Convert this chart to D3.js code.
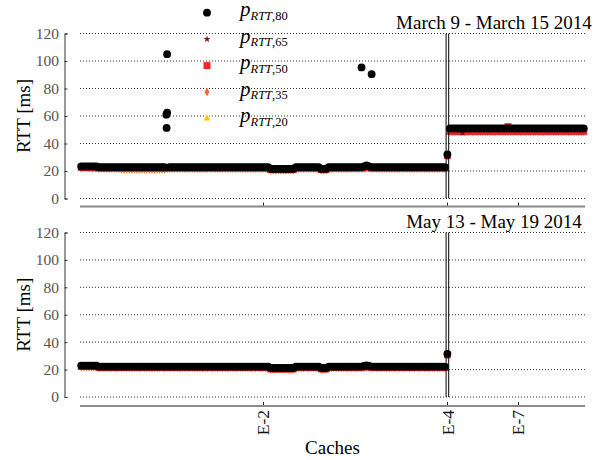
<!DOCTYPE html>
<html>
<head>
<meta charset="utf-8">
<script src="https://cdn.jsdelivr.net/npm/d3@7"></script>
<style>
body{margin:0;background:#fff}
text{font-family:"Liberation Serif","DejaVu Serif",serif}
</style>
</head>
<body>
<div class="container"></div>
<script>
// caches are numbered 1..200 along the x axis
const cacheCount = 200
const xTickCaches = [73, 146, 174]
const xTickLabels = ["E-2", "E-4", "E-7"]
const yTicks = [0, 20, 40, 60, 80, 100, 120]
const splitCache = 146

const titles = ["March 9 - March 15 2014", "May 13 - May 19 2014"]

// March week (top), one row = 10 caches
const topP80 = [
23.3,23.3,23.3,23.3,23.3,23.3,23.3,22.8,22.8,22.8,
22.8,22.8,22.8,22.8,22.8,22.8,22.8,22.8,22.8,22.8,
22.8,22.8,22.8,22.8,22.8,22.8,22.8,22.8,22.8,22.8,
22.8,22.8,22.8,22.8,105,22.8,22.8,22.8,22.8,22.8,
22.8,22.8,22.8,22.8,22.8,22.8,22.8,22.8,22.8,22.8,
22.8,22.8,22.8,22.8,22.8,22.8,22.8,22.8,22.8,22.8,
22.8,22.8,22.8,22.8,22.8,22.8,22.8,22.8,22.8,22.8,
22.8,22.8,22.8,22.8,22.8,21.6,21.6,21.6,21.6,21.6,
21.6,21.6,21.6,21.6,21.6,22.8,22.8,22.8,22.8,22.8,
22.8,22.8,22.8,22.8,22.8,21.6,21.6,21.6,22.8,22.8,
22.8,22.8,22.8,22.8,22.8,22.8,22.8,22.8,22.8,22.8,
22.8,22.8,23.4,24.0,23.4,22.8,22.8,22.8,22.8,22.8,
22.8,22.8,22.8,22.8,22.8,22.8,22.8,22.8,22.8,22.8,
22.8,22.8,22.8,22.8,22.8,22.8,22.8,22.8,22.8,22.8,
22.8,22.8,22.8,22.8,22.8,32,51,51,51,51,
51,51,51,51,51,51,51,51,51,51,
51,51,51,51,51,51,51,51,51,51,
51,51,51,51,51,51,51,51,51,51,
51,51,51,51,51,51,51,51,51,51,
51,51,51,51,51,51,51,51,51,51]
const topP65 = [
22.9,22.9,22.9,22.9,22.9,22.9,22.9,22.4,22.4,22.4,
22.4,22.4,22.4,22.4,22.4,22.4,22.4,22.4,22.4,22.4,
22.4,22.4,22.4,22.4,22.4,22.4,22.4,22.4,22.4,22.4,
22.4,22.4,22.4,22.4,22.4,22.4,22.4,22.4,22.4,22.4,
22.4,22.4,22.4,22.4,22.4,22.4,22.4,22.4,22.4,22.4,
22.4,22.4,22.4,22.4,22.4,22.4,22.4,22.4,22.4,22.4,
22.4,22.4,22.4,22.4,22.4,22.4,22.4,22.4,22.4,22.4,
22.4,22.4,22.4,22.4,22.4,21.3,21.3,21.3,21.3,21.3,
21.3,21.3,21.3,21.3,21.3,22.4,22.4,22.4,22.4,22.4,
22.4,22.4,22.4,22.4,22.4,21.3,21.3,21.3,22.4,22.4,
22.4,22.4,22.4,22.4,22.4,22.4,22.4,22.4,22.4,22.4,
22.4,22.4,22.9,23.3,22.9,22.4,22.4,22.4,22.4,22.4,
22.4,22.4,22.4,22.4,22.4,22.4,22.4,22.4,22.4,22.4,
22.4,22.4,22.4,22.4,22.4,22.4,22.4,22.4,22.4,22.4,
22.4,22.4,22.4,22.4,22.4,31.6,50.4,50.4,50.4,50.4,
50.4,47.6,50.4,50.4,50.4,50.4,50.4,50.4,50.4,50.4,
50.4,50.4,50.4,50.4,50.4,50.4,50.4,50.4,50.4,50.4,
50.4,50.4,50.4,50.4,50.4,50.4,50.4,50.4,50.4,50.4,
50.4,50.4,50.4,50.4,50.4,50.4,50.4,50.4,50.4,50.4,
50.4,50.4,50.4,50.4,50.4,50.4,50.4,50.4,50.4,50.4]
const topP50 = [
22.6,22.6,22.6,22.6,22.6,22.6,22.6,22.1,22.1,22.1,
22.1,22.1,22.1,22.1,22.1,22.1,21.8,21.8,21.8,21.8,
21.8,21.8,21.8,21.8,21.8,21.8,21.8,21.8,21.8,21.8,
21.8,21.8,21.8,21.8,22.1,22.1,22.1,22.1,22.1,22.1,
22.1,22.1,22.1,22.1,22.1,22.1,22.1,22.1,22.1,22.1,
22.1,22.1,22.1,22.1,22.1,22.1,22.1,22.1,22.1,22.1,
22.1,22.1,22.1,22.1,22.1,22.1,22.1,22.1,22.1,22.1,
22.1,22.1,22.1,22.1,22.1,21.0,21.0,21.0,21.0,21.0,
21.0,21.0,21.0,21.0,21.0,22.1,22.1,22.1,22.1,22.1,
22.1,22.1,22.1,22.1,22.1,21.0,21.0,21.0,22.1,22.1,
22.1,22.1,22.1,22.1,22.1,22.1,22.1,22.1,22.1,22.1,
22.1,22.1,22.5,22.9,22.5,22.1,22.1,22.1,22.1,22.1,
22.1,22.1,22.1,22.1,22.1,22.1,22.1,22.1,22.1,22.1,
22.1,22.1,22.1,22.1,22.1,22.1,22.1,22.1,22.1,22.1,
22.1,22.1,22.1,22.1,22.1,31.2,48.8,48.8,48.8,48.8,
48.8,48.8,48.8,48.8,48.8,48.8,48.8,48.8,48.8,48.8,
48.8,48.8,48.8,48.8,48.8,48.8,48.8,48.8,48.8,52.3,
48.8,48.8,48.8,48.8,48.8,48.8,48.8,48.8,48.8,48.8,
48.8,48.8,48.8,48.8,48.8,48.8,48.8,48.8,48.8,48.8,
48.8,48.8,48.8,48.8,48.8,48.8,48.8,48.8,48.8,48.8]
const topP35 = [
22.2,22.2,22.2,22.2,22.2,22.2,22.2,21.8,21.8,21.8,
21.8,21.8,21.8,21.8,21.8,21.8,21.2,21.2,21.2,21.2,
21.2,21.2,21.2,21.2,21.2,21.2,21.2,21.2,21.2,21.2,
21.2,21.2,21.2,21.2,21.8,21.8,21.8,21.8,21.8,21.8,
21.8,21.8,21.8,21.8,21.8,21.8,21.8,21.8,21.8,21.8,
21.8,21.8,21.8,21.8,21.8,21.8,21.8,21.8,21.8,21.8,
21.8,21.8,21.8,21.8,21.8,21.8,21.8,21.8,21.8,21.8,
21.8,21.8,21.8,21.8,21.8,20.6,20.6,20.6,20.6,20.6,
20.6,20.6,20.6,20.6,20.6,21.8,21.8,21.8,21.8,21.8,
21.8,21.8,21.8,21.8,21.8,20.6,20.6,20.6,21.8,21.8,
21.8,21.8,21.8,21.8,21.8,21.8,21.8,21.8,21.8,21.8,
21.8,21.8,21.9,22.5,21.9,21.8,21.8,21.8,21.8,21.8,
21.8,21.8,21.8,21.8,21.8,21.8,21.8,21.8,21.8,21.8,
21.8,21.8,21.8,21.8,21.8,21.8,21.8,21.8,21.8,21.8,
21.8,21.8,21.8,21.8,21.8,30.8,48.4,48.4,48.4,48.4,
48.4,48.4,48.4,48.4,48.4,48.4,48.4,48.4,48.4,48.4,
48.4,48.4,48.4,48.4,48.4,48.4,48.4,48.4,48.4,48.4,
48.4,48.4,48.4,48.4,48.4,48.4,48.4,48.4,48.4,48.4,
48.4,48.4,48.4,48.4,48.4,48.4,48.4,48.4,48.4,48.4,
48.4,48.4,48.4,48.4,48.4,48.4,48.4,48.4,48.4,48.4]
const topP20 = [
22.0,22.0,22.0,22.0,22.0,22.0,22.0,21.6,21.6,21.6,
21.6,21.6,21.6,21.6,21.6,21.6,21.0,21.0,21.0,21.0,
21.0,21.0,21.0,21.0,21.0,21.0,21.0,21.0,21.0,21.0,
21.0,21.0,21.0,21.0,21.6,21.6,21.6,21.6,21.6,21.6,
21.6,21.6,21.6,21.6,21.6,21.6,21.6,21.6,21.6,21.6,
21.6,21.6,21.6,21.6,21.6,21.6,21.6,21.6,21.6,21.6,
21.6,21.6,21.6,21.6,21.6,21.6,21.6,21.6,21.6,21.6,
21.6,21.6,21.6,21.6,21.6,20.4,20.4,20.4,20.4,20.4,
20.4,20.4,20.4,20.4,20.4,21.6,21.6,21.6,21.6,21.6,
21.6,21.6,21.6,21.6,21.6,20.4,20.4,20.4,21.6,21.6,
21.6,21.6,21.6,21.6,21.6,21.6,21.6,21.6,21.6,21.6,
21.6,21.6,21.7,22.3,21.7,21.6,21.6,21.6,21.6,21.6,
21.6,21.6,21.6,21.6,21.6,21.6,21.6,21.6,21.6,21.6,
21.6,21.6,21.6,21.6,21.6,21.6,21.6,21.6,21.6,21.6,
21.6,21.6,21.6,21.6,21.6,30.5,48.2,48.2,48.2,48.2,
48.2,48.2,48.2,48.2,48.2,48.2,48.2,48.2,48.2,48.2,
48.2,48.2,48.2,48.2,48.2,48.2,48.2,48.2,48.2,48.2,
48.2,48.2,48.2,48.2,48.2,48.2,48.2,48.2,48.2,48.2,
48.2,48.2,48.2,48.2,48.2,48.2,48.2,48.2,48.2,48.2,
48.2,48.2,48.2,48.2,48.2,48.2,48.2,48.2,48.2,48.2]
// extra p80 samples far above the band
const topExtraCache = [35, 34.7, 34.8, 112, 116]
const topExtraRtt = [62.5, 61, 51.3, 95.3, 90.4]

// May week (bottom), nothing after E-4
const botP80 = [
22.9,22.9,22.9,22.9,22.9,22.9,22.9,22.2,22.2,22.2,
22.2,22.2,22.2,22.2,22.2,22.2,22.2,22.2,22.2,22.2,
22.2,22.2,22.2,22.2,22.2,22.2,22.2,22.2,22.2,22.2,
22.2,22.2,22.2,22.2,22.2,22.2,22.2,22.2,22.2,22.2,
22.2,22.2,22.2,22.2,22.2,22.2,22.2,22.2,22.2,22.2,
22.2,22.2,22.2,22.2,22.2,22.2,22.2,22.2,22.2,22.2,
22.2,22.2,22.2,22.2,22.2,22.2,22.2,22.2,22.2,22.2,
22.2,22.2,22.2,22.2,22.2,21.2,21.2,21.2,21.2,21.2,
21.2,21.2,21.2,21.2,21.2,22.2,22.2,22.2,22.2,22.2,
22.2,22.2,22.2,22.2,22.2,21.2,21.2,21.2,22.2,22.2,
22.2,22.2,22.2,22.2,22.2,22.2,22.2,22.2,22.2,22.2,
22.2,22.2,22.6,23.1,22.6,22.2,22.2,22.2,22.2,22.2,
22.2,22.2,22.2,22.2,22.2,22.2,22.2,22.2,22.2,22.2,
22.2,22.2,22.2,22.2,22.2,22.2,22.2,22.2,22.2,22.2,
22.2,22.2,22.2,22.2,22.2,31.5]
const botP65 = [
22.5,22.5,22.5,22.5,22.5,22.5,22.5,21.8,21.8,21.8,
21.8,21.8,21.8,21.8,21.8,21.8,21.8,21.8,21.8,21.8,
21.8,21.8,21.8,21.8,21.8,21.8,21.8,21.8,21.8,21.8,
21.8,21.8,21.8,21.8,21.8,21.8,21.8,21.8,21.8,21.8,
21.8,21.8,21.8,21.8,21.8,21.8,21.8,21.8,21.8,21.8,
21.8,21.8,21.8,21.8,21.8,21.8,21.8,21.8,21.8,21.8,
21.8,21.8,21.8,21.8,21.8,21.8,21.8,21.8,21.8,21.8,
21.8,21.8,21.8,21.8,21.8,20.8,20.8,20.8,20.8,20.8,
20.8,20.8,20.8,20.8,20.8,21.8,21.8,21.8,21.8,21.8,
21.8,21.8,21.8,21.8,21.8,20.8,20.8,20.8,21.8,21.8,
21.8,21.8,21.8,21.8,21.8,21.8,21.8,21.8,21.8,21.8,
21.8,21.8,22.1,22.6,22.1,21.8,21.8,21.8,21.8,21.8,
21.8,21.8,21.8,21.8,21.8,21.8,21.8,21.8,21.8,21.8,
21.8,21.8,21.8,21.8,21.8,21.8,21.8,21.8,21.8,21.8,
21.8,21.8,21.8,21.8,21.8,31.1]
const botP50 = [
22.2,22.2,22.2,22.2,22.2,22.2,22.2,21.5,21.5,21.5,
21.5,21.5,21.5,21.5,21.5,21.5,21.5,21.5,21.5,21.5,
21.5,21.5,21.5,21.5,21.5,21.5,21.5,21.5,21.5,21.5,
21.5,21.5,21.5,21.5,21.5,21.5,21.5,21.5,21.5,21.5,
21.5,21.5,21.5,21.5,21.5,21.5,21.5,21.5,21.5,21.5,
21.5,21.5,21.5,21.5,21.5,21.5,21.5,21.5,21.5,21.5,
21.5,21.5,21.5,21.5,21.5,21.5,21.5,21.5,21.5,21.5,
21.5,21.5,21.5,21.5,21.5,20.5,20.5,20.5,20.5,20.5,
20.5,20.5,20.5,20.5,20.5,21.5,21.5,21.5,21.5,21.5,
21.5,21.5,21.5,21.5,21.5,20.5,20.5,20.5,21.5,21.5,
21.5,21.5,21.5,21.5,21.5,21.5,21.5,21.5,21.5,21.5,
21.5,21.5,21.8,22.3,21.8,21.5,21.5,21.5,21.5,21.5,
21.5,21.5,21.5,21.5,21.5,21.5,21.5,21.5,21.5,21.5,
21.5,21.5,21.5,21.5,21.5,21.5,21.5,21.5,21.5,21.5,
21.5,21.5,21.5,21.5,21.5,30.8]
const botP35 = [
21.9,21.9,21.9,21.9,21.9,21.9,21.9,21.2,21.2,21.2,
21.2,21.2,21.2,21.2,21.2,21.2,21.2,21.2,21.2,21.2,
21.2,21.2,21.2,21.2,21.2,21.2,21.2,21.2,21.2,21.2,
21.2,21.2,21.2,21.2,21.2,21.2,21.2,21.2,21.2,21.2,
21.2,21.2,21.2,21.2,21.2,21.2,21.2,21.2,21.2,21.2,
21.2,21.2,21.2,21.2,21.2,21.2,21.2,21.2,21.2,21.2,
21.2,21.2,21.2,21.2,21.2,21.2,21.2,21.2,21.2,21.2,
21.2,21.2,21.2,21.2,21.2,20.2,20.2,20.2,20.2,20.2,
20.2,20.2,20.2,20.2,20.2,21.2,21.2,21.2,21.2,21.2,
21.2,21.2,21.2,21.2,21.2,20.2,20.2,20.2,21.2,21.2,
21.2,21.2,21.2,21.2,21.2,21.2,21.2,21.2,21.2,21.2,
21.2,21.2,21.5,22.0,21.5,21.2,21.2,21.2,21.2,21.2,
21.2,21.2,21.2,21.2,21.2,21.2,21.2,21.2,21.2,21.2,
21.2,21.2,21.2,21.2,21.2,21.2,21.2,21.2,21.2,21.2,
21.2,21.2,21.2,21.2,21.2,30.5]
const botP20 = [
21.7,21.7,21.7,21.7,21.7,21.7,21.7,21.0,21.0,21.0,
21.0,21.0,21.0,21.0,21.0,21.0,21.0,21.0,21.0,21.0,
21.0,21.0,21.0,21.0,21.0,21.0,21.0,21.0,21.0,21.0,
21.0,21.0,21.0,21.0,21.0,21.0,21.0,21.0,21.0,21.0,
21.0,21.0,21.0,21.0,21.0,21.0,21.0,21.0,21.0,21.0,
21.0,21.0,21.0,21.0,21.0,21.0,21.0,21.0,21.0,21.0,
21.0,21.0,21.0,21.0,21.0,21.0,21.0,21.0,21.0,21.0,
21.0,21.0,21.0,21.0,21.0,20.0,20.0,20.0,20.0,20.0,
20.0,20.0,20.0,20.0,20.0,21.0,21.0,21.0,21.0,21.0,
21.0,21.0,21.0,21.0,21.0,20.0,20.0,20.0,21.0,21.0,
21.0,21.0,21.0,21.0,21.0,21.0,21.0,21.0,21.0,21.0,
21.0,21.0,21.3,21.8,21.3,21.0,21.0,21.0,21.0,21.0,
21.0,21.0,21.0,21.0,21.0,21.0,21.0,21.0,21.0,21.0,
21.0,21.0,21.0,21.0,21.0,21.0,21.0,21.0,21.0,21.0,
21.0,21.0,21.0,21.0,21.0,30.2]
const botExtraCache = []
const botExtraRtt = []

// legend order, top to bottom
const seriesNames = ["80", "65", "50", "35", "20"]
const seriesColors = ["#000000", "#7b1515", "#ee2626", "#f26a2c", "#ffc400"]

const w = 610
const h = 460

const symbolFor = {
    "80": d3.symbol().type(d3.symbolCircle).size(48),
    "65": d3.symbol().type(d3.symbolStar).size(16),
    "50": d3.symbol().type(d3.symbolSquare).size(48),
    "35": d3.symbol().type(d3.symbolDiamond).size(22),
    "20": d3.symbol().type(d3.symbolTriangle).size(20)
}

const panels = [
    {title: titles[0], y0: 198.5, y120: 33.5, axisY: 206.5,
     series: [topP80, topP65, topP50, topP35, topP20], extraCache: topExtraCache, extraRtt: topExtraRtt, labels: false},
    {title: titles[1], y0: 397, y120: 232.5, axisY: 406,
     series: [botP80, botP65, botP50, botP35, botP20], extraCache: botExtraCache, extraRtt: botExtraRtt, labels: true}
]

const svg = d3.select(".container")
              .append("svg")
              .attr("width", w)
              .attr("height", h)
              .style("display", "block")

svg.append("rect").attr("width", w).attr("height", h).attr("fill", "#fff")

const xScale = d3.scaleLinear()
                 .domain([0.5, cacheCount + 0.5])
                 .range([80, 585])

const drawPanel = (p)=>{
    const yScale = d3.scaleLinear().domain([0, 120]).range([p.y0, p.y120])
    const g = svg.append("g")

    // dotted grid
    g.selectAll("line.grid")
     .data(yTicks)
     .enter()
     .append("line")
     .attr("class", "grid")
     .attr("x1", 80).attr("x2", 585)
     .attr("y1", (d)=>yScale(d)).attr("y2", (d)=>yScale(d))
     .attr("stroke", "#333")
     .attr("stroke-width", 1)
     .attr("stroke-dasharray", "1,2")

    // series, lowest percentile drawn first
    for(let k = seriesNames.length - 1; k >= 0; k--){
        const name = seriesNames[k]
        g.selectAll("path.s" + name)
         .data(p.series[k])
         .enter()
         .append("path")
         .attr("class", "s" + name)
         .attr("d", symbolFor[name])
         .attr("transform", (d, i)=>"translate(" + xScale(i + 1) + "," + yScale(d) + ")")
         .attr("fill", seriesColors[k])
    }
    g.selectAll("path.extra")
     .data(p.extraRtt)
     .enter()
     .append("path")
     .attr("class", "extra")
     .attr("d", symbolFor["80"])
     .attr("transform", (d, i)=>"translate(" + xScale(p.extraCache[i]) + "," + yScale(d) + ")")
     .attr("fill", seriesColors[0])

    // double line at E-4
    const xs = xScale(splitCache)
    ;[xs - 1.3, xs + 1.3].forEach((x)=>{
        g.append("line")
         .attr("x1", x).attr("x2", x)
         .attr("y1", yScale(120)).attr("y2", yScale(0))
         .attr("stroke", "#000").attr("stroke-width", 1)
    })

    // y axis
    const yAxis = d3.axisRight(yScale).tickValues(yTicks).tickSize(3).tickFormat("")
    g.append("g")
     .attr("transform", "translate(64.5,0)")
     .call(yAxis)
     .call((a)=>a.selectAll("path,line").attr("stroke", "#333"))
    g.selectAll("text.ytick")
     .data(yTicks)
     .enter()
     .append("text")
     .attr("class", "ytick")
     .attr("x", 59)
     .attr("y", (d)=>yScale(d))
     .attr("dy", "0.35em")
     .attr("text-anchor", "end")
     .attr("font-size", 15.5)
     .attr("fill", "#555")
     .text((d)=>d)

    // x axis
    g.append("line")
     .attr("x1", 80).attr("x2", 585)
     .attr("y1", p.axisY).attr("y2", p.axisY)
     .attr("stroke", "#8a8a8a").attr("stroke-width", 2)
    g.selectAll("line.xtick")
     .data(xTickCaches)
     .enter()
     .append("line")
     .attr("class", "xtick")
     .attr("x1", (d)=>Math.round(xScale(d)) + 0.5).attr("x2", (d)=>Math.round(xScale(d)) + 0.5)
     .attr("y1", p.axisY - 4).attr("y2", p.axisY - 1)
     .attr("stroke", "#222")
    if(p.labels){
        g.selectAll("text.xtick")
         .data(xTickCaches)
         .enter()
         .append("text")
         .attr("class", "xtick")
         .attr("transform", (d)=>"translate(" + xScale(d) + "," + (p.axisY + 4) + ") rotate(-90)")
         .attr("dy", "0.35em")
         .attr("text-anchor", "end")
         .attr("font-size", 17.5)
         .attr("fill", "#111")
         .text((d, i)=>xTickLabels[i])
    }

    svg.append("text")
       .attr("transform", "translate(30," + ((p.y0 + p.y120) / 2) + ") rotate(-90)")
       .attr("text-anchor", "middle")
       .attr("font-size", 19)
       .text("RTT [ms]")

    svg.append("text")
       .attr("x", 494)
       .attr("y", p.y120 - 4.5)
       .attr("text-anchor", "middle")
       .attr("font-size", 19)
       .text(p.title)
}

panels.forEach(drawPanel)

svg.append("text")
   .attr("x", 332.5)
   .attr("y", 454)
   .attr("text-anchor", "middle")
   .attr("font-size", 19)
   .text("Caches")

// legend
const legendY = d3.scaleLinear().domain([0, 4]).range([12.7, 118.5])
const legend = svg.append("g").attr("id", "legend")
seriesNames.forEach((name, i)=>{
    legend.append("path")
          .attr("d", symbolFor[name])
          .attr("transform", "translate(207," + legendY(i) + ")")
          .attr("fill", seriesColors[i])
    const t = legend.append("text")
                    .attr("x", 240)
                    .attr("y", legendY(i) + 3.5)
    t.append("tspan").attr("font-style", "italic").attr("font-size", 21).text("p")
    t.append("tspan").attr("font-style", "italic").attr("font-size", 12.5).attr("dy", 3.5).text("RTT")
    t.append("tspan").attr("font-size", 12.5).text("," + name)
})
</script>
</body>
</html>
